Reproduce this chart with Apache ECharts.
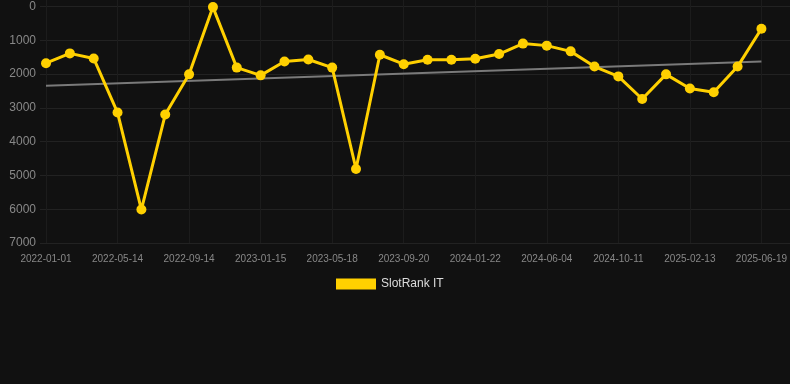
<!DOCTYPE html>
<html>
<head>
<meta charset="utf-8">
<script src="https://cdn.jsdelivr.net/npm/echarts@6/dist/echarts.min.js"></script>
<style>
html,body{margin:0;padding:0;background:#111111;}
#chart{width:790px;height:384px;}
</style>
</head>
<body>
<div id="chart"></div>
<script>
var categories = ["2022-01-01","2022-02-14","2022-03-30","2022-05-14","2022-06-25","2022-08-04","2022-09-14","2022-10-26","2022-12-06","2023-01-15","2023-02-26","2023-04-07","2023-05-18","2023-06-29","2023-08-09","2023-09-20","2023-11-01","2023-12-12","2024-01-22","2024-03-06","2024-04-20","2024-06-04","2024-07-17","2024-08-29","2024-10-11","2024-11-22","2025-01-02","2025-02-13","2025-03-28","2025-05-08","2025-06-19"];
var rankValues = [1680,1390,1540,3140,6010,3200,2010,20,1810,2040,1630,1570,1810,4810,1430,1710,1580,1580,1550,1410,1100,1160,1330,1780,2070,2740,2010,2430,2540,1780,660];
var trendValues = [[0,2350],[30,1630]];
var yTicks = [0,1000,2000,3000,4000,5000,6000,7000];
var seriesName = "SlotRank IT";

var chart = echarts.init(document.getElementById('chart'));
chart.setOption({
  backgroundColor: '#111111',
  animation: false,
  legend: {
    data: [{name: seriesName, icon: 'rect'}],
    left: 331, top: 273,
    itemWidth: 40, itemHeight: 11, itemGap: 10,
    textStyle: {color: '#dddddd', fontSize: 12, fontFamily: 'Liberation Sans, Arial, sans-serif'}
  },
  grid: [
    {left: 40, right: 0, top: 6.5, bottom: 141, containLabel: false},
    {left: 46, right: 28, top: 0, bottom: 141, containLabel: false}
  ],
  xAxis: [
    {gridIndex: 0, type: 'value', min: 0, max: 1, show: false},
    {
      gridIndex: 1, type: 'category', data: categories, boundaryGap: false,
      axisLine: {show: false}, axisTick: {show: false},
      axisLabel: {interval: 2, color: '#888888', fontSize: 10, margin: 11, fontFamily: 'Liberation Sans, Arial, sans-serif'},
      splitLine: {show: true, interval: 2, lineStyle: {color: '#1c1c1c', width: 1}}
    }
  ],
  yAxis: [
    {
      gridIndex: 0, type: 'value', inverse: true, min: yTicks[0], max: yTicks[yTicks.length-1], interval: 1000,
      axisLine: {show: false}, axisTick: {show: false},
      axisLabel: {color: '#888888', fontSize: 12, margin: 4, fontFamily: 'Liberation Sans, Arial, sans-serif',
        formatter: function (v) { return String(v); }},
      splitLine: {show: true, lineStyle: {color: '#222222', width: 1}}
    },
    {
      gridIndex: 1, type: 'value', inverse: true, min: -190, max: 7000, show: false,
      splitLine: {show: false}
    }
  ],
  series: [
    {
      name: 'trend', type: 'line', xAxisIndex: 1, yAxisIndex: 1,
      data: trendValues, symbol: 'none',
      lineStyle: {color: '#7a7a7a', width: 2}, z: 2, silent: true
    },
    {
      name: seriesName, type: 'line', xAxisIndex: 1, yAxisIndex: 1,
      data: rankValues, symbol: 'circle', symbolSize: 10,
      itemStyle: {color: '#ffd000'},
      lineStyle: {color: '#ffd000', width: 3}, z: 3
    }
  ]
});
</script>
</body>
</html>
